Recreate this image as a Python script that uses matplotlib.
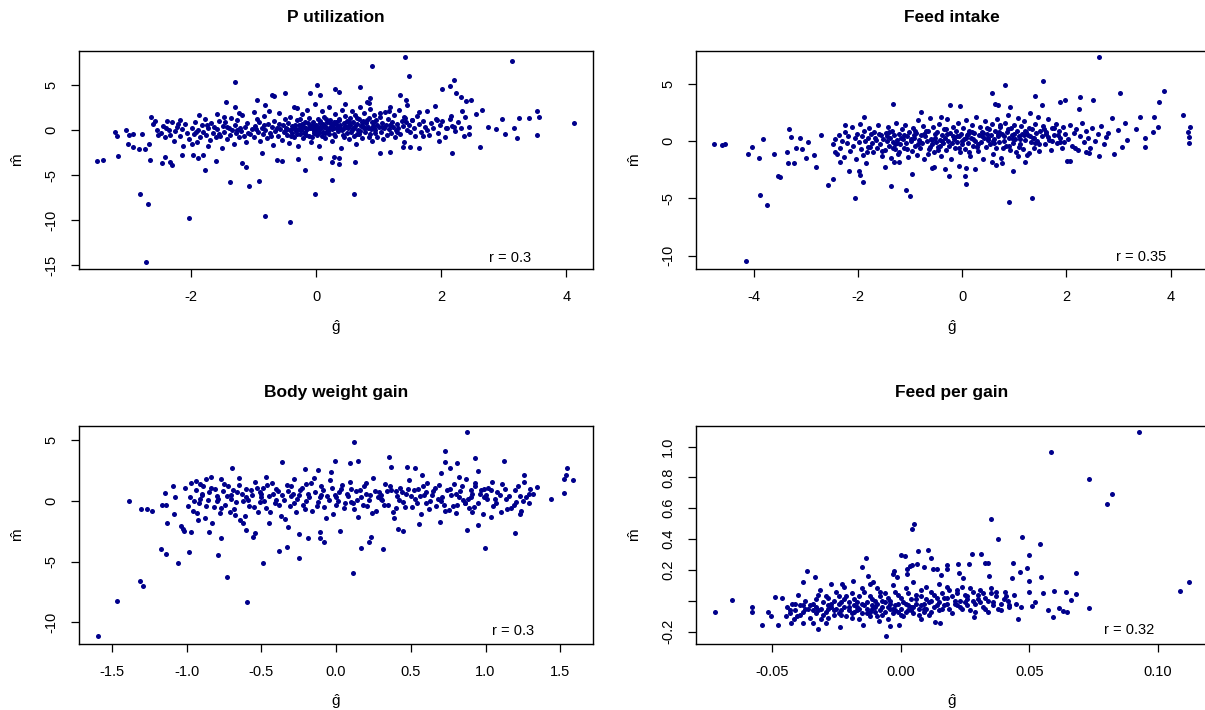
import numpy as np
import matplotlib
matplotlib.use("Agg")
import matplotlib.pyplot as plt

plt.rcParams['font.family'] = ['Liberation Sans', 'DejaVu Sans']
plt.rcParams['mathtext.fontset'] = 'custom'
plt.rcParams['mathtext.rm'] = 'Liberation Sans'

DOT = '#00008B'

# breeding values (g hat) vs. microbiome values (m hat), one list of points per trait
p_util_pts = [
    (-3.50, -3.47), (-3.40, -3.36), (-3.21, -0.22), (-3.19, -0.63), (-3.16, -2.87), (-3.04, 0.04),
    (-3.00, -1.57), (-2.99, -0.49), (-2.93, -1.83), (-2.92, -0.41), (-2.83, -2.13), (-2.81, -7.05),
    (-2.78, -0.41), (-2.73, -2.13), (-2.72, -14.66), (-2.68, -8.21), (-2.67, -1.53), (-2.66, -3.32),
    (-2.64, 1.53), (-2.60, 0.71), (-2.57, 1.08), (-2.55, 0.04), (-2.52, -0.49), (-2.47, -3.69),
    (-2.41, -2.95), (-2.38, 1.04), (-2.35, 0.04), (-2.34, -3.51), (-2.30, -3.92), (-2.20, 0.67),
    (-2.17, 1.16), (-2.15, -2.80), (-2.03, -9.78), (-1.98, -1.57), (-1.97, -2.80), (-1.89, -3.13),
    (-1.87, 1.72), (-1.81, -2.76), (-1.78, -4.44), (-1.72, -1.75), (-1.60, -3.40), (-1.59, 1.83),
    (-1.47, 1.53), (-1.44, 3.10), (-1.38, -5.75), (-1.30, 5.34), (-1.29, 2.57), (-1.23, 1.90),
    (-1.19, -3.62), (-1.12, -4.07), (-1.07, -6.23), (-1.00, 1.98), (-0.94, 3.40), (-0.92, -5.63),
    (-0.86, -2.50), (-0.82, 2.84), (-0.81, -9.55), (-0.71, 3.92), (-0.67, 3.77), (-0.62, -3.32),
    (-0.54, -3.43), (-0.49, 4.14), (-0.42, -10.26), (-0.31, 2.46), (-0.29, -3.25), (-0.18, -4.44),
    (-0.09, 4.14), (-0.01, -7.05), (0.02, 5.07), (0.06, 3.92), (0.06, -3.10), (0.25, -5.49),
    (0.25, -3.58), (0.28, -3.02), (0.30, 4.63), (0.36, 4.25), (0.37, -3.81), (0.37, -3.10),
    (0.60, -7.05), (0.62, -3.51), (0.71, 4.85), (0.89, 7.13), (1.42, 8.17), (1.48, 6.01),
    (1.34, 3.92), (1.44, 3.40), (2.02, 4.59), (2.14, 4.96), (2.20, 5.63), (2.24, 4.14),
    (2.31, 3.66), (2.40, 3.21), (2.47, 3.40), (2.17, -2.50), (1.96, -1.23), (1.65, -2.01),
    (1.50, -1.90), (1.39, -1.83), (1.03, -2.57), (1.18, -2.39), (2.62, -1.83), (3.13, 7.69),
    (2.97, 1.23), (3.02, -0.41), (3.16, 0.30), (3.22, -0.82), (3.24, 1.34), (3.40, 1.34),
    (3.53, -0.52), (3.54, 2.09), (3.56, 1.46), (4.13, 0.78), (2.88, 0.11), (2.75, 0.41),
    (2.66, 2.28), (2.56, 1.79), (2.45, 0.41), (2.36, -0.63), (2.33, 2.09), (2.20, 0.41),
    (2.15, 1.60), (2.08, 0.22), (1.93, 1.16), (1.90, 2.72), (1.77, 0.04), (1.71, -0.63),
    (1.65, 2.01), (1.54, 1.16), (1.40, 1.53), (1.28, 0.04), (1.16, 2.09), (1.03, 1.90),
    (0.87, 3.58), (0.85, 3.02),
    (-2.48, -0.3), (-2.45, 0.5), (-2.42, -0.8), (-2.40, 0.2), (-2.33, -0.5), (-2.30, 0.9),
    (-2.27, -1.2), (-2.25, -0.1), (-2.22, 0.4), (-2.18, -0.6), (-2.15, 0.1), (-2.12, -1.7),
    (-2.10, 0.7), (-2.06, -0.3), (-2.03, -1.0),
    (-1.98, 0.3), (-1.95, -0.4), (-1.93, 0.9), (-1.90, -1.3), (-1.88, 0.0), (-1.85, -0.7),
    (-1.83, 0.6), (-1.80, -0.2), (-1.78, 1.2), (-1.76, -0.5), (-1.73, 0.2), (-1.70, -1.1),
    (-1.68, 0.8), (-1.65, -0.3), (-1.63, 0.4), (-1.60, -0.8), (-1.58, 0.1), (-1.55, 1.0),
    (-1.53, -0.6), (-1.51, -2.0),
    (-1.49, 0.5), (-1.47, -0.2), (-1.45, 0.9), (-1.43, -1.0), (-1.40, 0.2), (-1.38, -0.5),
    (-1.36, 1.4), (-1.34, 0.0), (-1.32, -1.5), (-1.30, 0.6), (-1.28, -0.3), (-1.26, 1.1),
    (-1.24, -0.8), (-1.22, 0.3), (-1.20, -0.1), (-1.18, 1.7), (-1.16, -0.6), (-1.14, 0.4),
    (-1.12, -1.3), (-1.10, 0.8), (-1.06, -0.4), (-1.03, 0.1),
    (-0.99, -0.7), (-0.97, 0.5), (-0.95, 1.3), (-0.93, -0.2), (-0.91, 0.9), (-0.89, -1.2),
    (-0.87, 0.2), (-0.85, -0.4), (-0.83, 1.6), (-0.81, 0.0), (-0.79, -0.9), (-0.77, 0.7),
    (-0.75, 2.2), (-0.73, -0.3), (-0.71, 0.4), (-0.69, -1.6), (-0.67, 1.0), (-0.65, -0.1),
    (-0.63, 0.3), (-0.61, -0.6), (-0.59, 1.9), (-0.57, 0.1), (-0.55, -1.1), (-0.53, 0.6),
    (-0.51, -0.2), (-0.50, 1.2),
    (-0.48, 0.3), (-0.47, -0.5), (-0.45, 0.8), (-0.44, -1.4), (-0.42, 0.0), (-0.41, 1.5),
    (-0.39, -0.3), (-0.38, 0.5), (-0.36, -0.8), (-0.35, 2.6), (-0.33, 0.2), (-0.32, -0.1),
    (-0.30, 1.1), (-0.29, -1.8), (-0.27, 0.6), (-0.26, -0.4), (-0.24, 0.0), (-0.23, 1.8),
    (-0.21, -0.9), (-0.20, 0.4), (-0.18, 0.9), (-0.17, -0.2), (-0.15, 2.3), (-0.14, 0.1),
    (-0.12, -0.6), (-0.11, 1.4), (-0.09, 0.5), (-0.08, -1.3), (-0.06, 0.2), (-0.05, 0.9),
    (-0.03, -0.3), (-0.02, 2.9),
    (0.00, 0.6), (0.01, -0.5), (0.03, 1.2), (0.04, 0.0), (0.05, -1.7), (0.07, 0.8),
    (0.08, 0.3), (0.10, 2.1), (0.11, -0.2), (0.12, 1.5), (0.14, 0.5), (0.15, -0.9),
    (0.17, 0.9), (0.18, 0.1), (0.20, 2.6), (0.21, -0.4), (0.22, 1.1), (0.24, 0.4),
    (0.25, -1.2), (0.27, 0.7), (0.28, 0.2), (0.30, 1.8), (0.31, -0.6), (0.32, 0.9),
    (0.34, 0.3), (0.35, -0.1), (0.37, 1.3), (0.38, 0.6), (0.40, -2.0), (0.41, 2.3),
    (0.42, 0.0), (0.44, 0.8), (0.45, -0.7), (0.46, 1.6), (0.48, 0.4), (0.49, -0.3),
    (0.50, 1.0), (0.47, 2.9),
    (0.51, 0.2), (0.52, -1.0), (0.54, 1.4), (0.55, 0.6), (0.56, -0.2), (0.58, 2.1),
    (0.59, 0.9), (0.60, -0.6), (0.61, 0.3), (0.63, 1.7), (0.64, -1.5), (0.65, 0.7),
    (0.67, 0.0), (0.68, 1.2), (0.69, -0.4), (0.71, 2.6), (0.72, 0.5), (0.73, -0.9),
    (0.75, 1.0), (0.76, 0.2), (0.77, 1.9), (0.79, -0.2), (0.80, 0.8), (0.81, 3.1),
    (0.83, 0.4), (0.84, -0.7), (0.85, 1.4), (0.87, 2.4), (0.88, 0.1), (0.89, -1.2),
    (0.90, 0.9), (0.92, 1.7), (0.93, 0.3), (0.94, -0.3), (0.96, 1.1), (0.97, 0.6),
    (0.98, -0.8), (1.00, 0.4),
    (1.02, 1.5), (1.04, -0.2), (1.05, 0.8), (1.07, -1.0), (1.08, 0.3), (1.10, 2.0),
    (1.12, 0.6), (1.13, -0.5), (1.15, 1.2), (1.17, 0.1), (1.18, 2.6), (1.20, -0.3),
    (1.22, 0.9), (1.23, 0.4), (1.25, 1.7), (1.27, -0.8), (1.29, 0.7), (1.31, 0.2),
    (1.33, 2.3), (1.35, -0.4), (1.37, 1.0), (1.39, 0.5), (1.41, -1.3), (1.43, 1.4),
    (1.45, 0.0), (1.46, 2.8), (1.48, 0.6), (1.50, -0.2),
    (1.53, 1.1), (1.56, 0.3), (1.59, -0.6), (1.62, 1.6), (1.64, 0.7), (1.68, -0.2),
    (1.71, 1.0), (1.74, 0.4), (1.78, 2.1), (1.81, -0.5), (1.84, 0.8), (1.87, 0.2),
    (1.91, 1.3), (1.95, -0.3), (1.98, 0.6), (2.02, 1.0), (2.06, -0.7), (2.10, 0.3),
    (2.14, 1.2), (2.18, 0.5), (2.22, -0.1), (2.27, 0.9), (2.32, 0.2), (2.38, 1.5),
    (2.44, -0.4),
    (-0.28, 0.1), (-0.22, 0.7), (-0.16, -0.5), (-0.10, 0.3), (-0.04, -0.1), (0.02, 0.2),
    (0.06, 1.0), (0.09, -0.6), (0.13, 0.4), (0.16, 1.3), (0.19, -0.1), (0.23, 0.8),
    (0.26, 0.1), (0.29, -0.4), (0.33, 0.6), (0.36, 1.1), (0.39, 0.2), (0.43, -0.5),
    (0.46, 0.5), (0.53, 0.9), (0.57, 0.0), (0.62, 0.5), (0.66, 1.4), (0.70, -0.1),
    (0.74, 0.6), (0.78, 0.3), (0.82, 1.1), (0.86, -0.4), (0.91, 0.5), (0.95, 0.0),
    (-0.46, 0.1), (-0.40, -0.6), (-0.34, 0.6), (-0.25, 1.2), (-0.19, -0.3), (-0.13, 0.8),
    (-0.07, -0.7), (-0.01, 0.4), (0.04, -0.3), (0.11, 0.7),
    (-1.92, -0.2), (-1.74, 0.6), (-1.56, -0.4), (-1.42, 0.4), (-1.27, 0.0), (-1.09, -0.3),
    (-0.96, 0.1), (-0.84, 0.6), (-0.72, -0.6), (-0.60, 0.7), (-0.49, -0.1), (-0.37, 0.2),
    (-0.31, -0.4), (-0.23, 0.4), (-0.16, 0.2), (-0.07, 0.6), (0.00, -0.1), (0.07, 0.4),
    (0.14, -0.3), (0.21, 0.2), (0.28, 0.9), (0.35, 0.5), (0.44, 0.3), (0.52, 0.6),
    (0.59, 0.2), (0.66, -0.4), (0.74, 0.9), (0.83, 0.2), (0.92, 0.9), (1.06, 0.4),
    (1.19, 0.6), (1.30, -0.2), (1.44, 0.9),
]

feed_intake_pts = [
    (-4.77, -0.29), (-4.62, -0.35), (-4.56, -0.29), (-4.15, -10.43), (-4.13, -1.13), (-4.04, -0.55),
    (-3.90, -1.51), (-3.89, -4.72), (-3.84, 0.17), (-3.76, -5.57), (-3.63, -1.13), (-3.55, -3.04),
    (-3.51, -3.16), (-3.33, 1.01), (-3.37, -0.93), (-3.35, -1.88), (-3.29, 0.32), (-3.23, -1.88),
    (-3.20, -0.64), (-3.12, 0.23), (-3.09, -0.72), (-3.00, -1.51), (-2.96, -0.06), (-2.86, -1.22),
    (-2.81, -2.23), (-2.71, 0.52), (-2.59, -3.83), (-2.49, -3.33), (-2.44, -0.93), (-2.36, -1.80),
    (-2.25, 1.39), (-2.18, -2.61), (-2.06, -4.93), (-1.99, -2.58), (-1.97, -2.96), (-1.92, -3.62),
    (-1.90, 2.06), (-1.84, -0.93), (-1.49, -2.23), (-1.38, -3.91), (-1.34, 3.22), (-1.31, -1.86),
    (-1.21, -1.86), (-1.08, -4.26), (-1.00, -4.81), (-0.97, -2.90), (-0.80, 2.49), (-0.59, -2.38),
    (-0.54, -2.23), (-0.42, 2.12), (-0.34, -2.46), (-0.26, -3.04), (-0.24, 3.13), (-0.05, 3.04),
    (-0.06, -2.17), (0.05, -3.04), (0.07, -3.74), (0.07, -2.32), (0.25, -2.43), (0.56, 4.20),
    (0.62, 3.22), (0.68, 3.16), (0.82, 4.87), (0.89, -5.36), (0.97, -2.58), (0.91, 2.93),
    (1.34, -4.99), (1.39, 3.94), (1.54, 5.25), (1.52, 3.13), (1.87, 3.42), (1.97, 3.57),
    (2.01, -1.71), (2.07, -1.71), (2.26, 3.86), (2.25, 2.75), (2.51, 3.57), (2.63, 7.28),
    (2.63, -1.30), (2.88, 1.97), (2.92, -1.13), (3.02, 4.14), (3.12, 1.54), (2.99, 0.96),
    (3.06, -0.49), (3.41, 2.12), (3.51, -0.49), (3.51, 0.23), (3.68, 2.06), (3.77, 3.39),
    (3.76, 1.25), (3.88, 4.32), (3.67, 0.81), (3.33, 1.01), (3.17, 0.09), (4.24, 2.29),
    (4.33, 0.81), (4.35, 0.32), (4.35, -0.15), (4.37, 1.19), (2.75, 0.32), (2.43, -1.07),
    (2.37, -0.93), (2.17, -0.64), (1.87, -0.06), (1.76, 1.10), (1.65, 0.38), (1.20, -1.80),
    (1.28, -1.01), (1.07, -1.30), (0.76, -1.94), (0.65, -2.09), (0.57, -1.80),
    (-2.48, -0.3), (-2.45, 0.2), (-2.41, -1.1), (-2.38, 0.5), (-2.35, -0.6), (-2.31, 0.0),
    (-2.28, -1.4), (-2.25, 0.8), (-2.22, -0.2), (-2.19, 0.4), (-2.16, -0.9), (-2.13, 1.2),
    (-2.10, -0.4), (-2.07, 0.3), (-2.04, -1.6), (-2.02, 0.6),
    (-1.99, -0.1), (-1.97, 1.5), (-1.95, -0.7), (-1.93, 0.4), (-1.91, -1.2), (-1.89, 0.9),
    (-1.87, 0.0), (-1.85, -1.9), (-1.82, 0.3), (-1.80, 1.1), (-1.78, -0.5), (-1.76, 0.6),
    (-1.73, -0.2), (-1.71, -1.0), (-1.69, 0.8), (-1.66, 0.1), (-1.64, -0.6), (-1.62, 1.4),
    (-1.59, -0.3), (-1.57, 0.5), (-1.55, -1.3), (-1.52, 0.2),
    (-1.49, -0.8), (-1.47, 0.7), (-1.45, 0.0), (-1.43, 1.2), (-1.41, -0.4), (-1.39, 0.3),
    (-1.37, -1.5), (-1.35, 0.9), (-1.33, -0.1), (-1.31, 0.5), (-1.29, -0.7), (-1.27, 1.6),
    (-1.25, 0.1), (-1.23, -1.1), (-1.21, 0.6), (-1.19, -0.3), (-1.17, 1.0), (-1.15, 0.2),
    (-1.13, -0.6), (-1.11, 1.4), (-1.09, -0.2), (-1.07, 0.4), (-1.05, -1.4), (-1.03, 0.8),
    (-0.99, 0.0), (-0.97, -0.9), (-0.95, 1.1), (-0.93, 0.3), (-0.91, -0.4), (-0.89, 0.7),
    (-0.87, -1.2), (-0.85, 1.8), (-0.83, 0.1), (-0.81, -0.6), (-0.79, 0.5), (-0.77, -0.2),
    (-0.75, 1.3), (-0.73, -1.6), (-0.71, 0.4), (-0.69, 0.0), (-0.67, 0.9), (-0.65, -0.7),
    (-0.63, 2.0), (-0.61, 0.2), (-0.59, -0.3), (-0.57, 1.2), (-0.55, -1.0), (-0.53, 0.6),
    (-0.51, -0.1),
    (-0.49, 0.8), (-0.47, -0.5), (-0.45, 1.5), (-0.43, 0.1), (-0.41, -1.3), (-0.39, 0.5),
    (-0.37, -0.2), (-0.35, 1.0), (-0.33, 0.3), (-0.31, -0.8), (-0.29, 1.9), (-0.27, 0.0),
    (-0.25, -0.4), (-0.23, 0.7), (-0.21, -1.6), (-0.19, 1.2), (-0.17, 0.2), (-0.15, -0.6),
    (-0.13, 0.9), (-0.11, -0.1), (-0.09, 1.6), (-0.07, 0.4), (-0.05, -1.0), (-0.03, 0.6),
    (-0.01, -0.3),
    (0.01, 1.1), (0.03, 0.2), (0.05, -0.7), (0.07, 1.8), (0.09, 0.5), (0.11, -0.2),
    (0.13, 0.9), (0.15, -1.3), (0.17, 0.3), (0.19, 1.4), (0.21, -0.4), (0.23, 0.7),
    (0.25, 0.0), (0.27, 2.1), (0.29, -0.9), (0.31, 0.5), (0.33, 1.2), (0.35, -0.1),
    (0.37, 0.8), (0.39, -1.6), (0.41, 0.3), (0.43, 1.7), (0.45, -0.5), (0.47, 0.6),
    (0.49, 0.1),
    (0.51, 1.0), (0.53, -0.3), (0.55, 0.5), (0.57, 1.5), (0.59, -1.1), (0.61, 0.2),
    (0.63, 0.9), (0.65, -0.6), (0.67, 1.9), (0.69, 0.4), (0.71, -0.1), (0.73, 1.2),
    (0.75, -1.5), (0.77, 0.6), (0.79, 0.0), (0.81, 1.6), (0.83, -0.4), (0.85, 0.8),
    (0.87, 2.3), (0.89, 0.3), (0.91, -0.8), (0.93, 1.1), (0.95, 0.5), (0.97, -0.2),
    (0.99, 1.4),
    (1.01, 0.2), (1.03, -1.0), (1.05, 0.9), (1.07, 2.0), (1.09, 0.4), (1.11, -0.3),
    (1.13, 1.3), (1.15, 0.6), (1.17, -0.7), (1.19, 1.7), (1.21, 0.1), (1.23, 0.8),
    (1.25, -1.2), (1.27, 0.5), (1.29, 2.4), (1.31, -0.1), (1.33, 1.0), (1.35, 0.3),
    (1.37, -0.6), (1.39, 1.5), (1.41, 0.7), (1.43, 0.0), (1.45, 2.1), (1.47, -0.9),
    (1.49, 0.9),
    (1.52, 0.4), (1.55, 1.3), (1.58, -0.3), (1.61, 0.8), (1.64, 1.9), (1.67, 0.1),
    (1.70, -0.8), (1.73, 1.1), (1.76, 0.5), (1.79, 1.5), (1.82, -0.2), (1.85, 0.9),
    (1.88, 0.3), (1.91, -0.6), (1.94, 1.2), (1.97, 0.6),
    (2.02, 0.2), (2.06, 1.4), (2.10, -0.4), (2.14, 0.7), (2.18, 1.0), (2.22, -0.8),
    (2.26, 0.4), (2.30, 1.6), (2.34, -0.1), (2.38, 0.9), (2.42, 0.3), (2.46, -0.6),
    (2.50, 1.1), (2.55, 0.0), (2.60, 0.6), (2.66, 1.3), (2.72, -0.3), (2.80, 0.7),
    (-1.44, 0.4), (-1.26, -0.2), (-1.12, 0.5), (-0.98, 0.2), (-0.86, -0.3), (-0.74, 0.6),
    (-0.62, -0.5), (-0.52, 0.3), (-0.40, 0.0), (-0.30, 0.6), (-0.20, -0.2), (-0.10, 0.4),
    (0.00, 0.0), (0.10, 0.6), (0.20, 0.2), (0.30, -0.3), (0.40, 0.7), (0.50, 0.3),
    (0.60, -0.2), (0.70, 0.8), (0.80, 0.4), (0.90, -0.4), (1.00, 0.6), (1.10, 0.2),
    (1.20, 0.9), (1.30, 0.4), (1.40, -0.2), (-1.34, -0.6), (-0.92, 0.9), (-0.46, -0.8),
    (-1.81, -0.5), (-1.68, 0.3), (-1.54, -0.9), (-1.42, 0.8), (-1.30, -0.3), (-1.18, 0.3),
    (-1.06, -0.7), (-0.94, 0.5), (-0.82, -0.1), (-0.70, 0.9), (-0.58, 0.1), (-0.44, -0.4),
    (-0.32, 1.0), (-0.18, 0.4), (-0.06, -0.6), (0.06, 0.3), (0.18, 0.8), (0.28, -0.5),
    (0.38, 0.4), (0.48, 1.1), (0.58, 0.0), (0.68, 0.6), (0.78, -0.6), (0.88, 1.0),
    (0.98, 0.2), (1.08, -0.5), (1.18, 0.5), (1.28, 1.1), (1.38, 0.3), (1.48, -0.3),
    (1.60, 0.6), (1.72, 0.0), (1.84, 0.5), (1.96, -0.1), (-1.60, 0.6), (-1.22, -1.0),
    (-0.66, -1.1), (0.12, -1.0), (0.72, 1.4), (1.56, 1.0),
]

bw_gain_pts = [
    (-1.595, -11.16), (-1.467, -8.26), (-1.387, 0.00), (-1.313, -6.61), (-1.292, -6.97), (-1.308, -0.63),
    (-1.266, -0.63), (-1.230, -0.83), (-1.174, -3.97), (-1.164, -0.33), (-1.138, -0.33), (-1.138, -4.41),
    (-1.133, -1.85), (-1.148, 0.69), (-1.092, 1.24), (-1.087, -1.07), (-1.076, 0.30), (-1.061, -5.15),
    (-1.040, -2.07), (-1.025, -2.29), (-1.020, -2.45), (-1.010, 1.05), (-0.984, -4.24), (-0.974, -2.53),
    (-0.994, -0.41), (-0.938, 1.68), (-0.925, -1.57), (-0.912, 1.40), (-0.873, 1.79), (-0.848, -2.53),
    (-0.840, 2.01), (-0.789, -4.49), (-0.771, -3.09), (-0.773, 1.79), (-0.727, -6.25), (-0.694, 2.70),
    (-0.676, -1.16), (-0.650, 1.87), (-0.624, -1.85), (-0.596, -8.37), (-0.604, -2.40), (-0.557, -3.00),
    (-0.545, -2.67), (-0.491, -5.10), (-0.470, 1.96), (-0.450, -1.85), (-0.383, -4.13), (-0.362, 3.25),
    (-0.326, -3.77), (-0.321, -2.12), (-0.249, -4.68), (-0.249, -2.73), (-0.211, 2.62), (-0.185, -3.09),
    (-0.121, 2.56), (-0.108, -3.09), (-0.082, -3.36), (-0.108, -2.53), (-0.033, 2.42), (-0.008, 3.33),
    (0.023, -2.45), (0.095, 3.11), (0.121, 4.88), (0.110, -5.98), (0.149, 3.33), (0.167, -3.91),
    (0.218, -3.36), (0.231, -2.95), (0.316, -3.97), (0.357, 3.66), (0.368, 2.78), (0.414, -2.34),
    (0.450, -2.45), (0.475, 2.78), (0.527, 2.70), (0.557, -1.93), (0.578, 2.15), (0.694, -1.71),
    (0.701, 2.29), (0.727, 4.10), (0.732, 3.20), (0.763, 2.70), (0.809, 3.11), (0.879, 5.67),
    (0.873, -2.40), (0.930, 3.55), (0.950, 2.51), (0.950, -1.98), (0.994, -3.91), (1.035, -1.29),
    (1.125, 3.31), (1.200, -2.67), (1.228, -1.10), (1.259, 2.15), (1.292, 0.58), (1.343, 1.18),
    (1.438, 0.17), (1.528, 0.63), (1.523, 1.79), (1.536, 2.15), (1.544, 2.70), (1.587, 1.74),
    (1.251, 0.03), (1.207, -0.06), (1.143, -0.66), (1.105, -0.88), (1.066, 0.14), (1.046, 1.60),
    (0.989, 0.96), (0.933, 1.46), (0.912, -0.88), (0.861, -0.19), (0.822, 1.96), (0.758, -0.74),
    (-0.98, 0.3), (-0.96, -0.8), (-0.94, 0.9), (-0.92, -0.2), (-0.90, 0.6), (-0.88, -1.4),
    (-0.86, 0.1), (-0.84, 1.1), (-0.82, -0.5), (-0.80, 0.4), (-0.78, -1.0), (-0.76, 0.8),
    (-0.74, -0.3), (-0.72, 1.2), (-0.70, 0.2), (-0.68, -0.7), (-0.66, 0.7), (-0.64, -1.6),
    (-0.62, 0.0), (-0.60, 1.0), (-0.58, -0.4), (-0.56, 0.5), (-0.54, 1.6), (-0.52, -0.9),
    (-0.50, 0.3), (-0.51, -0.1),
    (-0.49, 1.1), (-0.47, -0.6), (-0.45, 0.4), (-0.43, 1.5), (-0.41, -0.2), (-0.39, 0.8),
    (-0.37, -1.2), (-0.35, 0.1), (-0.33, 1.3), (-0.31, -0.4), (-0.29, 0.6), (-0.27, -0.9),
    (-0.26, 0.2), (-0.28, 1.8),
    (-0.24, 0.9), (-0.22, -0.3), (-0.20, 1.4), (-0.18, 0.3), (-0.16, -0.8), (-0.14, 0.7),
    (-0.12, -0.1), (-0.10, 1.2), (-0.08, -0.5), (-0.06, 0.4), (-0.04, 1.7), (-0.02, -1.1),
    (-0.01, 0.5), (-0.15, 1.9),
    (0.01, 0.0), (0.03, 1.0), (0.05, -0.6), (0.07, 0.6), (0.09, 1.6), (0.11, -0.2),
    (0.13, 0.8), (0.15, -1.3), (0.17, 0.3), (0.19, 1.2), (0.21, -0.4), (0.23, 0.5),
    (0.25, 1.9), (0.14, 0.1),
    (0.27, -0.8), (0.29, 0.7), (0.31, 0.1), (0.33, 1.4), (0.35, -0.3), (0.37, 0.9),
    (0.39, -1.4), (0.41, 0.4), (0.43, 1.1), (0.45, -0.1), (0.47, 0.6), (0.49, 1.7),
    (0.30, 0.5), (0.40, -0.6),
    (0.51, -0.5), (0.53, 0.2), (0.55, 1.0), (0.57, -1.1), (0.59, 0.5), (0.61, 1.5),
    (0.63, 0.0), (0.65, 0.8), (0.67, -0.4), (0.69, 1.3), (0.71, 0.3), (0.73, -0.8),
    (0.74, 0.9), (0.60, -0.2),
    (0.77, 0.5), (0.79, 1.4), (0.81, -0.3), (0.83, 0.8), (0.85, 0.1), (0.87, 1.8),
    (0.89, -0.6), (0.91, 0.6), (0.93, 1.2), (0.95, -0.2), (0.97, 0.9), (0.99, 0.3),
    (0.88, 0.2), (0.80, -1.0),
    (1.02, 1.1), (1.05, -0.4), (1.08, 0.7), (1.11, 1.4), (1.14, 0.2), (1.17, -0.6),
    (1.20, 0.9), (1.23, 0.4), (1.26, 1.6), (1.29, -0.2), (1.32, 0.6), (1.24, -0.8),
    (-0.70, 0.5), (-0.60, 0.3), (-0.50, 0.6), (-0.40, 0.1), (-0.30, 0.4), (-0.20, 0.0),
    (-0.10, 0.5), (0.00, 0.3), (0.10, -0.1), (0.20, 0.6), (0.30, 0.2), (0.40, 0.8),
    (0.50, 0.4), (0.60, 0.7), (0.70, 0.0), (0.80, 0.6), (0.90, 0.3), (1.00, 0.5),
    (-0.80, 0.0), (-0.90, 0.5),
    (-0.97, 1.5), (-0.95, 0.0), (-0.93, -1.0), (-0.91, 0.2), (-0.89, 1.2), (-0.87, -0.4),
    (-0.85, 0.7), (-0.83, -1.8), (-0.81, 1.0), (-0.79, 0.2), (-0.77, -0.6), (-0.75, 1.4),
    (-0.73, 0.4), (-0.71, -0.9), (-0.69, 0.9), (-0.67, -0.1), (-0.65, 1.3), (-0.63, 0.6),
    (-0.61, -1.2), (-0.59, 0.1), (-0.57, 0.9), (-0.55, -0.5), (-0.53, 1.1), (-0.51, 0.7),
    (-0.48, 0.0), (-0.46, 1.3), (-0.44, -0.9), (-0.42, 0.6), (-0.40, 1.0), (-0.38, -0.3),
    (-0.36, 0.5), (-0.34, -1.5), (-0.32, 0.8), (-0.30, 1.2), (-0.28, -0.2), (-0.25, 0.5),
    (-0.23, 1.1), (-0.21, -0.7), (-0.19, 0.6), (-0.17, 1.5), (-0.13, -0.4), (-0.11, 0.3),
    (-0.09, 0.9), (-0.07, -1.4), (-0.05, 0.1), (-0.03, 1.1), (0.00, -0.3), (0.02, 0.7),
    (0.04, 1.3), (0.06, -0.2), (0.08, 0.4), (0.10, 1.0), (0.12, -0.7), (0.16, 0.9),
    (0.18, -0.3), (0.20, 1.5), (0.22, 0.1), (0.24, -1.0), (0.26, 0.8), (0.28, 0.3),
    (0.32, -0.3), (0.34, 0.8), (0.36, 1.2), (0.38, -0.9), (0.42, 0.1), (0.44, 0.7),
    (0.46, -0.5), (0.48, 1.0), (0.52, 0.9), (0.54, -0.2), (0.56, 0.4), (0.58, 1.2),
    (0.62, -0.7), (0.64, 0.5), (0.66, 1.1), (0.68, 0.2), (0.72, -0.3), (0.76, 1.0),
    (0.78, -0.4), (0.82, 0.3), (0.84, 1.2), (0.86, -0.2), (0.90, 0.9), (0.92, -0.5),
    (0.96, 0.6), (0.98, -1.1), (1.01, 0.2), (1.04, 0.9), (1.07, -0.2), (1.10, 0.5),
    (1.13, 1.0), (1.16, 0.4), (1.19, -0.3), (1.22, 1.2), (1.27, 0.3), (1.30, 1.0),
]

feed_gain_pts = [
    (-0.0720, -0.071), (-0.0653, 0.004), (-0.0578, -0.043), (-0.0576, -0.071), (-0.0536, -0.154),
    (-0.0513, -0.071), (-0.0501, -0.099), (-0.0488, 0.022), (-0.0476, -0.154), (-0.0461, 0.015),
    (-0.0446, -0.099), (-0.0424, -0.147), (-0.0412, -0.121), (-0.0398, 0.037), (-0.0379, 0.123),
    (-0.0377, -0.147), (-0.0364, 0.195), (-0.0338, -0.143), (-0.0332, 0.156), (-0.0319, -0.186),
    (-0.0314, 0.069), (-0.0290, -0.147), (-0.0271, 0.112), (-0.0234, -0.169), (-0.0226, 0.112),
    (-0.0184, 0.128), (-0.0150, 0.216), (-0.0135, 0.275), (-0.0127, 0.162), (-0.0147, -0.154),
    (-0.0108, 0.119), (-0.0084, -0.132), (-0.0057, -0.229), (-0.0039, -0.164), (-0.0031, 0.171),
    (-0.0027, 0.195), (-0.0012, 0.156), (-0.0004, -0.154), (0.0003, 0.296), (0.0018, 0.290),
    (0.0025, 0.171), (0.0025, 0.203), (0.0037, 0.225), (0.0043, 0.465), (0.0051, 0.497),
    (0.0045, 0.231), (0.0066, 0.236), (0.0069, 0.322), (0.0090, 0.216), (0.0108, 0.329),
    (0.0120, 0.279), (0.0126, 0.203), (0.0142, 0.203), (0.0156, 0.166), (0.0135, -0.136),
    (0.0153, -0.143), (0.0180, 0.231), (0.0180, 0.203), (0.0222, 0.238), (0.0228, 0.182),
    (0.0243, 0.145), (0.0266, 0.238), (0.0278, 0.301), (0.0287, -0.104), (0.0311, 0.301),
    (0.0328, 0.246), (0.0338, 0.242), (0.0344, 0.160), (0.0353, 0.528), (0.0377, 0.402),
    (0.0404, 0.054), (0.0437, 0.246), (0.0434, 0.149), (0.0457, -0.121), (0.0464, 0.188),
    (0.0473, 0.411), (0.0493, 0.210), (0.0497, 0.296), (0.0497, 0.128), (0.0497, 0.058),
    (0.0542, 0.368), (0.0546, 0.156), (0.0554, 0.048), (0.0584, 0.966), (0.0572, -0.061),
    (0.0596, 0.065), (0.0591, -0.108), (0.0617, -0.045), (0.0632, -0.065), (0.0644, 0.054),
    (0.0647, -0.071), (0.0662, 0.004), (0.0680, 0.182), (0.0680, 0.043), (0.0732, 0.789),
    (0.0732, -0.045), (0.0801, 0.625), (0.0823, 0.692), (0.0927, 1.092), (0.1087, 0.065),
    (0.1120, 0.121), (0.0524, -0.006), (0.0509, -0.035), (0.0467, -0.039), (0.0422, -0.039),
    (0.0392, -0.061), (0.0419, 0.000),
    (-0.044, -0.04), (-0.043, -0.08), (-0.042, -0.02), (-0.041, -0.06), (-0.040, -0.10),
    (-0.039, -0.03), (-0.038, -0.07), (-0.037, 0.00), (-0.036, -0.05), (-0.035, -0.11),
    (-0.034, -0.02), (-0.033, -0.08), (-0.032, 0.04), (-0.031, -0.05), (-0.030, -0.01),
    (-0.031, -0.12),
    (-0.029, -0.07), (-0.028, 0.02), (-0.027, -0.04), (-0.026, -0.09), (-0.025, 0.06),
    (-0.024, -0.02), (-0.023, -0.06), (-0.022, 0.01), (-0.021, -0.10), (-0.020, -0.04),
    (-0.019, 0.05), (-0.018, -0.07), (-0.017, -0.01), (-0.016, -0.05), (-0.015, 0.08),
    (-0.016, -0.12), (-0.022, 0.09), (-0.028, -0.11),
    (-0.014, -0.03), (-0.013, -0.08), (-0.012, 0.03), (-0.011, -0.05), (-0.010, 0.00),
    (-0.009, -0.10), (-0.008, 0.06), (-0.007, -0.04), (-0.006, -0.07), (-0.005, 0.02),
    (-0.004, -0.02), (-0.003, 0.10), (-0.002, -0.06), (-0.001, 0.04), (0.000, -0.09),
    (-0.012, 0.11), (-0.005, -0.12), (-0.009, 0.08),
    (0.001, -0.01), (0.002, -0.07), (0.003, 0.05), (0.004, -0.04), (0.005, 0.12),
    (0.006, -0.02), (0.007, -0.09), (0.008, 0.03), (0.009, -0.05), (0.010, 0.09),
    (0.011, -0.01), (0.012, -0.07), (0.013, 0.04), (0.014, -0.03), (0.015, 0.11),
    (0.008, -0.12),
    (0.016, -0.05), (0.017, 0.02), (0.018, -0.02), (0.019, 0.07), (0.020, -0.08),
    (0.021, 0.00), (0.022, 0.05), (0.023, -0.04), (0.024, 0.09), (0.025, -0.01),
    (0.026, 0.03), (0.027, -0.06), (0.028, 0.06), (0.029, -0.02), (0.030, 0.01),
    (0.031, 0.07), (0.032, -0.04), (0.033, 0.02), (0.034, -0.07), (0.035, 0.05),
    (0.036, -0.01), (0.037, 0.03), (0.038, -0.05), (0.040, 0.01), (0.042, -0.03),
    (0.044, 0.04), (0.045, -0.02),
    (-0.028, -0.03), (-0.025, -0.05), (-0.023, -0.01), (-0.020, -0.06), (-0.018, -0.03),
    (-0.015, -0.02), (-0.013, -0.05), (-0.011, -0.03), (-0.008, -0.06), (-0.006, -0.01),
    (-0.004, -0.05), (-0.002, -0.03), (0.000, -0.05), (0.002, -0.02), (0.004, -0.06),
    (0.006, 0.01), (0.008, -0.03), (0.010, -0.05), (-0.026, 0.00), (-0.019, -0.08),
    (-0.012, -0.07), (-0.007, 0.00), (-0.001, -0.07), (0.005, -0.04), (0.012, 0.00),
    (0.018, 0.02), (0.022, -0.03), (0.026, 0.01), (-0.033, -0.04), (-0.038, -0.03),
    (-0.043, -0.06), (-0.041, -0.02), (-0.039, -0.09), (-0.037, -0.05), (-0.035, -0.03),
    (-0.033, 0.01), (-0.032, -0.06), (-0.030, -0.09), (-0.029, 0.03), (-0.027, -0.02),
    (-0.026, -0.06), (-0.024, 0.03), (-0.023, -0.09), (-0.022, -0.04), (-0.021, 0.03),
    (-0.020, -0.01), (-0.019, -0.11), (-0.018, 0.01), (-0.017, -0.04), (-0.016, 0.03),
    (-0.015, -0.08), (-0.014, 0.06), (-0.013, -0.01), (-0.012, -0.10), (-0.011, 0.01),
    (-0.010, -0.07), (-0.009, -0.02), (-0.008, 0.03), (-0.007, -0.09), (-0.006, 0.05),
    (-0.005, -0.04), (-0.004, 0.00), (-0.003, -0.08), (-0.002, 0.06), (-0.001, -0.02),
    (0.000, 0.02), (0.001, -0.10), (0.002, 0.08), (0.003, -0.03), (0.004, 0.01),
    (0.005, -0.08), (0.006, 0.04), (0.007, -0.05), (0.008, 0.07), (0.009, -0.02),
    (0.010, 0.01), (0.011, -0.09), (0.012, 0.06), (0.013, -0.04), (0.014, 0.02),
    (0.015, -0.06), (0.016, 0.05), (0.017, -0.03), (0.018, 0.09), (0.019, -0.05),
    (0.020, 0.03), (0.021, -0.02), (0.022, 0.07), (0.023, 0.00), (0.024, -0.05),
    (0.025, 0.04), (0.026, -0.03), (0.027, 0.08), (0.028, 0.00), (0.029, -0.07),
    (0.030, 0.04), (0.031, -0.01), (0.032, 0.05), (0.033, -0.05), (0.034, 0.00),
    (0.035, 0.08), (0.036, -0.03), (0.037, 0.06), (0.039, -0.02), (0.041, 0.03),
    (-0.034, -0.06), (-0.028, -0.05), (-0.024, -0.08), (-0.017, -0.06), (-0.010, -0.04),
    (-0.003, -0.05), (0.003, -0.06), (0.009, -0.07), (0.015, -0.01),
]

titles = ['P utilization', 'Feed intake', 'Body weight gain', 'Feed per gain']
r_values = [0.3, 0.35, 0.3, 0.32]

# per-panel axes setup
xlims = [(-3.79, 4.43), (-5.12, 4.72), (-1.72, 1.72), (-0.0794, 0.1194)]
ylims = [(-15.48, 8.86), (-11.19, 7.87), (-11.79, 6.21), (-0.28, 1.136)]
xticks = [[-2, 0, 2, 4], [-4, -2, 0, 2, 4], [-1.5, -1.0, -0.5, 0.0, 0.5, 1.0, 1.5],
          [-0.05, 0.00, 0.05, 0.10]]
xticklabels = [['-2', '0', '2', '4'], ['-4', '-2', '0', '2', '4'],
               ['-1.5', '-1.0', '-0.5', '0.0', '0.5', '1.0', '1.5'],
               ['-0.05', '0.00', '0.05', '0.10']]
yticks = [[-15, -10, -5, 0, 5], [-10, -5, 0, 5], [-10, -5, 0, 5],
          [-0.2, 0.0, 0.2, 0.4, 0.6, 0.8, 1.0]]
yticklabels = [['-15', '-10', '-5', '0', '5'], ['-10', '-5', '0', '5'], ['-10', '-5', '0', '5'],
               ['-0.2', '', '0.2', '0.4', '0.6', '0.8', '1.0']]
r_pos = [(0.839, 0.053), (0.869, 0.058), (0.845, 0.058), (0.846, 0.064)]

# figure-fraction rectangles: left column, right column (right edge runs off the canvas)
rects = [[0.0656, 0.6207, 0.4266, 0.3079],
         [0.5776, 0.6207, 0.4249, 0.3079],
         [0.0656, 0.0930, 0.4266, 0.3075],
         [0.5776, 0.0930, 0.4249, 0.3075]]

all_pts = [p_util_pts, feed_intake_pts, bw_gain_pts, feed_gain_pts]

fig = plt.figure(figsize=(12.05, 7.1), dpi=100)
fig.patch.set_facecolor('white')

for i in range(4):
    ax = fig.add_axes(rects[i])
    g, m = np.array(all_pts[i]).T
    ax.scatter(g, m, s=13, c=DOT, linewidths=0, zorder=3)
    ax.set_xlim(*xlims[i])
    ax.set_ylim(*ylims[i])
    ax.set_xticks(xticks[i])
    ax.set_xticklabels(xticklabels[i])
    ax.set_yticks(yticks[i])
    ax.set_yticklabels(yticklabels[i], rotation=90, va='center')
    ax.tick_params(direction='out', length=5.5, width=0.9, pad=9.5,
                   labelsize=10.5, colors='black')
    for sp in ax.spines.values():
        sp.set_linewidth(1.0)
        sp.set_color('black')
    ax.text(0.5, 1.153, titles[i], transform=ax.transAxes, ha='center', va='center',
            fontsize=12.5, fontweight='bold')
    ax.text(0.5, -0.265, r'$\hat{\mathrm{g}}$', transform=ax.transAxes,
            ha='center', va='center', fontsize=11)
    ax.text(-0.119, 0.5, r'$\hat{\mathrm{m}}$', transform=ax.transAxes,
            ha='center', va='center', rotation=90, fontsize=11)
    ax.text(r_pos[i][0], r_pos[i][1], 'r = %s' % r_values[i], transform=ax.transAxes,
            ha='center', va='center', fontsize=10.5)

fig.savefig('out.png', dpi=100, facecolor='white')
